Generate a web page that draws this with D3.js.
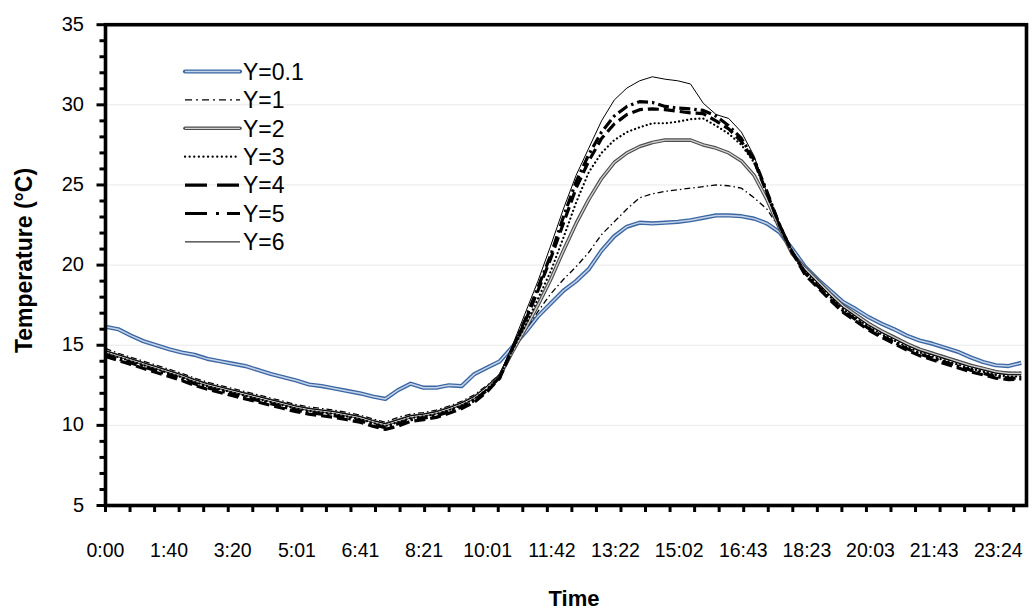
<!DOCTYPE html>
<html>
<head>
<meta charset="utf-8">
<script src="https://cdn.jsdelivr.net/npm/d3@7"></script>
<style>
  html, body { margin: 0; padding: 0; background: #fff; }
  svg { display: block; font-family: "Liberation Sans", Arial, sans-serif; }
</style>
</head>
<body>
<svg id="chart" width="1032" height="613"></svg>
<script>
// ---------------- DATA ----------------
// sample times (minutes after midnight), every 20 min
const times = d3.range(0, 1441, 20);

const tickLabels = ["0:00","1:40","3:20","5:01","6:41","8:21","10:01","11:42","13:22","15:02","16:43","18:23","20:03","21:43","23:24"];
const yTicks = [5, 10, 15, 20, 25, 30, 35];
const seriesNames = ["Y=0.1","Y=1","Y=2","Y=3","Y=4","Y=5","Y=6"];

const y01 = [16.15,16.0,15.6,15.25,15.0,14.75,14.55,14.4,14.15,14.0,13.85,13.7,13.45,13.2,13.0,12.8,12.55,12.45,12.3,12.15,12.0,11.8,11.65,12.2,12.6,12.35,12.35,12.5,12.45,13.2,13.6,14.0,
  14.9,15.8,16.8,17.6,18.4,19.0,19.75,20.9,21.8,22.4,22.65,22.6,22.65,22.7,22.8,22.95,23.1,23.1,23.05,22.9,22.6,22.05,21.0,
  19.9,19.1,18.4,17.7,17.25,16.75,16.35,16.0,15.6,15.3,15.1,14.85,14.6,14.25,13.95,13.75,13.7,13.9];

const y1 = [14.8,14.5,14.25,14.0,13.75,13.5,13.25,12.95,12.7,12.5,12.3,12.1,11.9,11.7,11.5,11.3,11.15,11.05,10.95,10.8,10.65,10.4,10.2,10.5,10.7,10.8,10.95,11.2,11.5,11.9,12.5,13.2,
  14.7,15.9,17.1,18.2,19.1,19.9,20.8,21.9,22.7,23.5,24.2,24.45,24.6,24.7,24.8,24.9,25.0,24.95,24.8,24.2,23.5,22.3,20.8,
  19.85,19.05,18.25,17.5,16.95,16.4,15.95,15.55,15.15,14.8,14.55,14.3,14.05,13.8,13.6,13.4,13.3,13.3];

const y2 = [14.6,14.35,14.1,13.85,13.6,13.35,13.1,12.8,12.55,12.35,12.15,11.95,11.75,11.55,11.35,11.15,11.0,10.9,10.8,10.65,10.5,10.25,10.05,10.3,10.55,10.65,10.8,11.05,11.35,11.75,12.35,13.1,
  14.6,16.0,17.5,19.1,20.9,22.6,24.1,25.4,26.4,27.0,27.4,27.65,27.8,27.8,27.8,27.5,27.3,27.0,26.5,25.6,24.1,22.3,20.7,
  19.8,19.0,18.2,17.45,16.9,16.35,15.9,15.5,15.1,14.75,14.5,14.25,14.0,13.75,13.55,13.35,13.25,13.25];

const y3 = [14.5,14.25,14.0,13.75,13.5,13.25,13.0,12.7,12.45,12.25,12.05,11.85,11.65,11.45,11.25,11.05,10.9,10.8,10.7,10.55,10.4,10.15,9.95,10.2,10.45,10.55,10.7,10.95,11.25,11.65,12.25,13.05,
  14.7,16.2,17.9,19.6,21.7,23.9,25.8,27.0,27.8,28.3,28.6,28.85,28.85,28.95,29.1,29.15,28.7,28.2,27.5,26.4,24.5,22.4,20.7,
  19.6,18.8,18.0,17.25,16.7,16.15,15.7,15.3,14.9,14.55,14.3,14.05,13.8,13.55,13.35,13.15,13.05,13.05];

const y4 = [14.3,14.05,13.8,13.55,13.3,13.05,12.8,12.5,12.25,12.05,11.85,11.65,11.45,11.25,11.05,10.85,10.7,10.6,10.5,10.35,10.2,9.95,9.75,9.95,10.25,10.35,10.5,10.75,11.05,11.45,12.1,12.95,
  14.8,16.5,18.4,20.4,22.6,24.8,26.5,27.9,28.8,29.4,29.7,29.75,29.7,29.6,29.5,29.45,29.0,28.5,27.7,26.5,24.5,22.5,20.8,
  19.4,18.6,17.8,17.05,16.5,15.95,15.5,15.1,14.7,14.35,14.1,13.85,13.6,13.35,13.15,12.95,12.85,12.9];

const y5 = [14.4,14.15,13.9,13.65,13.4,13.15,12.9,12.6,12.35,12.15,11.95,11.75,11.55,11.35,11.15,10.95,10.8,10.7,10.6,10.45,10.3,10.05,9.85,10.1,10.35,10.45,10.6,10.85,11.15,11.55,12.2,13.0,
  14.8,16.6,18.6,20.6,23.0,25.2,26.9,28.3,29.3,29.9,30.2,30.15,29.9,29.8,29.75,29.65,29.3,28.7,27.9,26.6,24.6,22.5,20.8,
  19.5,18.7,17.9,17.15,16.6,16.05,15.6,15.2,14.8,14.45,14.2,13.95,13.7,13.45,13.25,13.05,12.95,12.95];

const y6 = [14.65,14.4,14.15,13.9,13.65,13.4,13.15,12.85,12.6,12.4,12.2,12.0,11.8,11.6,11.4,11.2,11.05,10.95,10.85,10.7,10.55,10.3,10.1,10.35,10.6,10.7,10.85,11.1,11.4,11.8,12.45,13.2,
  15.0,17.0,19.0,21.2,23.5,25.6,27.3,29.0,30.3,31.05,31.5,31.75,31.6,31.5,31.3,30.1,29.4,29.15,28.3,26.8,24.5,22.6,20.9,
  19.7,18.9,18.1,17.35,16.8,16.25,15.8,15.4,15.0,14.65,14.4,14.15,13.9,13.65,13.45,13.25,13.15,13.15];

const seriesValues = [y01, y1, y2, y3, y4, y5, y6];

// ---------------- LAYOUT / STYLE ----------------
const svg = d3.select("#chart");
const L = 105.5, R = 1026.5, T = 24.7, B = 505.5;

const parseMin = s => { const [h, m] = s.split(":").map(Number); return h * 60 + m; };
const x = d3.scaleLinear().domain([0, 1448.3]).range([L, R]);
const y = d3.scaleLinear().domain([5, 35]).range([B, T]);

const styles = [
  { outer: "#3b67a3", outerW: 4.2, inner: "#c4d3ea", innerW: 1.5 },
  { stroke: "#000", width: 1.3, dash: "6,3,1.5,3", legendDash: "7,4,2,4" },
  { outer: "#4d4d4d", outerW: 3.6, inner: "#d2d2d2", innerW: 1.3 },
  { stroke: "#000", width: 2.2, dash: "0.1,4", cap: "round", legendDash: "0.1,4.5" },
  { stroke: "#000", width: 3.2, dash: "11,5", legendDash: "22,10" },
  { stroke: "#000", width: 3.2, dash: "11,4,2.5,4", legendDash: "22,9,3,8" },
  { stroke: "#000", width: 1.0 }
];

// gridlines
svg.append("g").selectAll("line")
  .data(yTicks.filter(v => v > 5 && v < 35))
  .join("line")
  .attr("x1", L).attr("x2", R)
  .attr("y1", d => y(d)).attr("y2", d => y(d))
  .attr("stroke", "#e9e9e9").attr("stroke-width", 1);

// series
const line = d3.line().x((d, i) => x(times[i])).y(d => y(d)).curve(d3.curveLinear);
const gSeries = svg.append("g");
seriesValues.forEach((vals, si) => {
  const st = styles[si];
  if (st.outer) {
    gSeries.append("path").attr("d", line(vals)).attr("fill", "none")
      .attr("stroke", st.outer).attr("stroke-width", st.outerW).attr("stroke-linejoin", "round");
    gSeries.append("path").attr("d", line(vals)).attr("fill", "none")
      .attr("stroke", st.inner).attr("stroke-width", st.innerW).attr("stroke-linejoin", "round");
  } else {
    gSeries.append("path").attr("d", line(vals)).attr("fill", "none")
      .attr("stroke", st.stroke).attr("stroke-width", st.width)
      .attr("stroke-dasharray", st.dash || null)
      .attr("stroke-linecap", st.cap || "butt")
      .attr("stroke-linejoin", "round");
  }
});

// frame
svg.append("rect").attr("x", L).attr("y", T).attr("width", R - L).attr("height", B - T)
  .attr("fill", "none").attr("stroke", "#000").attr("stroke-width", 3.6);

// y axis ticks
const yMinor = d3.range(5, 35.01, 1);
svg.append("g").selectAll("line").data(yMinor).join("line")
  .attr("x1", d => (d % 5 === 0) ? L - 9 : L - 6).attr("x2", L)
  .attr("y1", d => y(d)).attr("y2", d => y(d))
  .attr("stroke", "#000").attr("stroke-width", 3);
svg.append("g").selectAll("text").data(yTicks).join("text")
  .attr("x", 84).attr("y", d => y(d) + 6)
  .attr("text-anchor", "end").attr("font-size", 20).attr("fill", "#000")
  .text(d => d);

// x axis ticks
const xMinor = d3.range(0, 1448, 38.6);
svg.append("g").selectAll("line").data(xMinor).join("line")
  .attr("x1", d => x(d)).attr("x2", d => x(d))
  .attr("y1", B).attr("y2", B + 6.5)
  .attr("stroke", "#000").attr("stroke-width", 3);
svg.append("g").selectAll("text").data(tickLabels).join("text")
  .attr("x", d => x(parseMin(d))).attr("y", 557)
  .attr("text-anchor", "middle").attr("font-size", 19.5).attr("fill", "#000")
  .text(d => d);

// axis titles
svg.append("text").attr("transform", "translate(31.5,260.5) rotate(-90)")
  .attr("text-anchor", "middle").attr("font-size", 23).attr("font-weight", "bold")
  .text("Temperature (°C)");
svg.append("text").attr("x", 574).attr("y", 606)
  .attr("text-anchor", "middle").attr("font-size", 22).attr("font-weight", "bold")
  .text("Time");

// legend
const leg = svg.append("g");
seriesNames.forEach((name, i) => {
  const cy = 71.5 + i * 28.4;
  const st = styles[i];
  if (st.outer) {
    leg.append("line").attr("x1", 185).attr("x2", 240).attr("y1", cy).attr("y2", cy)
      .attr("stroke", st.outer).attr("stroke-width", st.outerW).attr("stroke-linecap", "round");
    leg.append("line").attr("x1", 185).attr("x2", 240).attr("y1", cy).attr("y2", cy)
      .attr("stroke", st.inner).attr("stroke-width", st.innerW);
  } else {
    leg.append("line").attr("x1", 185).attr("x2", 240).attr("y1", cy).attr("y2", cy)
      .attr("stroke", st.stroke).attr("stroke-width", st.width)
      .attr("stroke-dasharray", st.legendDash || null)
      .attr("stroke-linecap", st.cap || "butt");
  }
  leg.append("text").attr("x", 243).attr("y", cy + 8.3)
    .attr("font-size", 23).attr("fill", "#000").text(name);
});
</script>
</body>
</html>
